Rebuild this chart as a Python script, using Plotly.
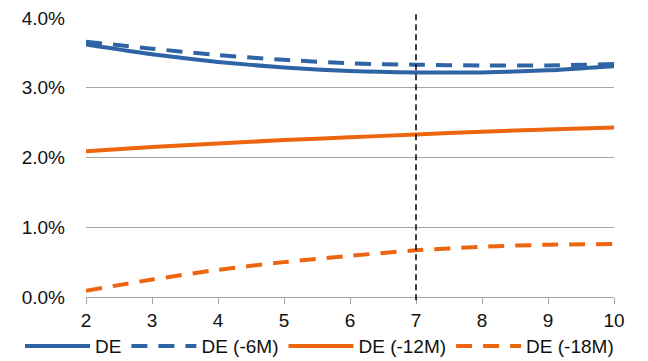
import plotly.graph_objects as go

maturity = [2, 3, 4, 5, 6, 7, 8, 9, 10]
de_now = [3.62, 3.48, 3.37, 3.29, 3.24, 3.22, 3.22, 3.25, 3.31]
de_6m = [3.66, 3.56, 3.47, 3.40, 3.35, 3.33, 3.32, 3.32, 3.34]
de_12m = [2.09, 2.15, 2.20, 2.25, 2.29, 2.33, 2.37, 2.40, 2.43]
de_18m = [0.09, 0.25, 0.39, 0.50, 0.59, 0.67, 0.72, 0.75, 0.76]
series_names = ["DE", "DE (-6M)", "DE (-12M)", "DE (-18M)"]
y_ticks = [0, 1, 2, 3, 4]
y_tick_labels = ["0.0%", "1.0%", "2.0%", "3.0%", "4.0%"]
marker_x = 7

BLUE = "#2E64A6"
ORANGE = "#EE650F"
FONT = "Liberation Sans, Arial, sans-serif"

fig = go.Figure()
styles = [
    (de_now, BLUE, "solid"),
    (de_6m, BLUE, "16px,11px"),
    (de_12m, ORANGE, "solid"),
    (de_18m, ORANGE, "16px,11px"),
]
for name, (vals, color, dash) in zip(series_names, styles):
    fig.add_trace(go.Scatter(
        x=maturity, y=vals, mode="lines", name=name,
        line=dict(color=color, width=4, dash=dash, shape="spline", smoothing=0.6),
    ))

fig.add_shape(type="line", xref="x", yref="paper", x0=marker_x, x1=marker_x,
              y0=-0.012, y1=1.015, line=dict(color="black", width=1.5, dash="6px,4px"))

fig.update_layout(
    width=648, height=361,
    margin=dict(l=86, r=34, t=18, b=64, autoexpand=False),
    plot_bgcolor="white", paper_bgcolor="white",
    font=dict(family=FONT, size=19, color="#111111"),
    showlegend=True,
    legend=dict(orientation="h", xref="paper", x=-0.125, xanchor="left",
                yref="paper", y=-0.108, yanchor="top",
                itemwidth=65, font=dict(size=19), traceorder="normal",
                tracegroupgap=0, bgcolor="rgba(0,0,0,0)"),
    xaxis=dict(range=[2, 10], tickmode="array", tickvals=maturity,
               showgrid=False, showline=True, linecolor="#A6A6A6", linewidth=1,
               ticks="outside", ticklen=6, tickcolor="#A6A6A6", zeroline=False),
    yaxis=dict(range=[0, 4], tickmode="array", tickvals=y_ticks, ticktext=y_tick_labels,
               showgrid=True, gridcolor="#A6A6A6", gridwidth=1,
               zeroline=False, showline=False, ticks="", ticklabelstandoff=20),
)

fig.write_html("out.html")
